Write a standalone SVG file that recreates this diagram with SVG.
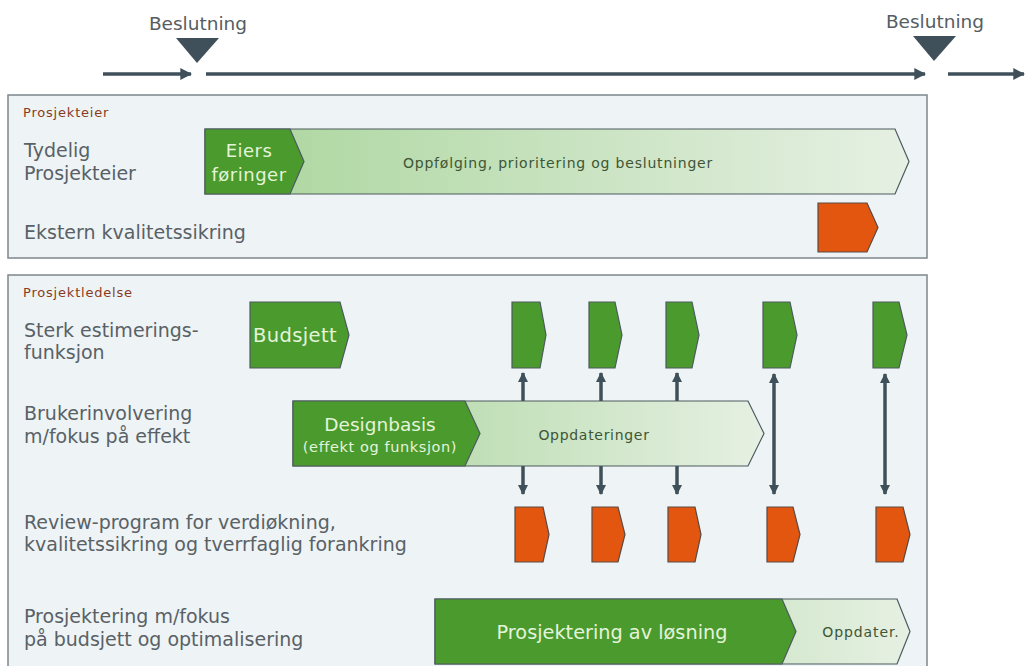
<svg xmlns="http://www.w3.org/2000/svg" width="1025" height="666" viewBox="0 0 1025 666">
<defs>
<style>
.lbl{font-family:"DejaVu Sans",Verdana,sans-serif;font-size:19px;fill:#596166}
.hdr{font-family:"DejaVu Sans",Verdana,sans-serif;font-size:13px;letter-spacing:0.8px;fill:#8a3b1e}
.top{font-family:"DejaVu Sans",Verdana,sans-serif;font-size:18.5px;fill:#555d62;text-anchor:middle}
.wt{font-family:"DejaVu Sans",Verdana,sans-serif;fill:#e4f4da;text-anchor:middle}
.dk{font-family:"DejaVu Sans",Verdana,sans-serif;fill:#3e5536;text-anchor:middle}
.panel{fill:#eef3f5;stroke:#7e878c;stroke-width:1.5}
.g{fill:#4a9a2e;stroke:#4c5a5e;stroke-width:1.2}
.o{fill:#e2560f;stroke:#5a4a44;stroke-width:1.2}
.lt{fill:url(#lg);stroke:#4c5a5e;stroke-width:1.2}
.ln{stroke:#3f505a;stroke-width:3.5;fill:none}
.tri{fill:#3f505a}
</style>
<linearGradient id="lg" x1="0" y1="0" x2="1" y2="0">
<stop offset="0" stop-color="#a9d59b"/>
<stop offset="1" stop-color="#e6f0e3"/>
</linearGradient>
<marker id="ah" viewBox="0 0 10 10" refX="9" refY="5" markerWidth="3.4" markerHeight="3.4" orient="auto-start-reverse" markerUnits="strokeWidth">
<path d="M0,0 L10,5 L0,10 z" fill="#3f505a"/>
</marker>
<marker id="ah2" viewBox="0 0 10 10" refX="9" refY="5" markerWidth="3" markerHeight="3" orient="auto-start-reverse" markerUnits="strokeWidth">
<path d="M0,0 L10,5 L0,10 z" fill="#3f505a"/>
</marker>
</defs>

<g id="timeline">
<text class="top" x="198" y="30">Beslutning</text>
<polygon class="tri" points="176,38 219,38 197,63"/>
<text class="top" x="935" y="28">Beslutning</text>
<polygon class="tri" points="913,36 956,36 934,61"/>
</g>

<g id="panel-prosjekteier">
<rect class="panel" x="8" y="95" width="919" height="163"/>
<text class="hdr" x="23" y="117">Prosjekteier</text>
<text class="lbl" x="24" y="157">Tydelig</text>
<text class="lbl" x="24" y="180">Prosjekteier</text>
<text class="lbl" x="24" y="239">Ekstern kvalitetssikring</text>
</g>

<g id="bar-oppfolging">
<polygon class="lt" points="205,129 895,129 909,161.5 895,194 205,194"/>
<polygon class="g" points="205,129 290,129 304,161.5 290,194 205,194"/>
<text class="wt" x="249" y="157" font-size="18" letter-spacing="0.5">Eiers</text>
<text class="wt" x="249" y="181" font-size="18" letter-spacing="0.5">føringer</text>
<text class="dk" x="558" y="168" font-size="14" letter-spacing="0.8">Oppfølging, prioritering og beslutninger</text>
</g>

<g id="ekstern-ks">
<polygon class="o" points="818,203 867,203 878,227.5 867,252 818,252"/>
</g>

<g id="panel-prosjektledelse">
<rect class="panel" x="8" y="275" width="919" height="400"/>
<text class="hdr" x="23" y="297">Prosjektledelse</text>
<text class="lbl" x="24" y="337">Sterk estimerings-</text>
<text class="lbl" x="24" y="359">funksjon</text>
<text class="lbl" x="24" y="420">Brukerinvolvering</text>
<text class="lbl" x="24" y="443">m/fokus på effekt</text>
<text class="lbl" x="24" y="529">Review-program for verdiøkning,</text>
<text class="lbl" x="24" y="551">kvalitetssikring og tverrfaglig forankring</text>
<text class="lbl" x="24" y="623">Prosjektering m/fokus</text>
<text class="lbl" x="24" y="646">på budsjett og optimalisering</text>
</g>

<g id="budsjett">
<polygon class="g" points="250,302 340,302 349,335 340,368 250,368"/>
<text class="wt" x="295" y="342" font-size="19.5" letter-spacing="0.4">Budsjett</text>
</g>

<g id="estimat-1"><polygon class="g" points="512,302 540,302 546,335 540,368 512,368"/></g>
<g id="estimat-2"><polygon class="g" points="589,302 615,302 622,335 615,368 589,368"/></g>
<g id="estimat-3"><polygon class="g" points="666,302 692,302 699,335 692,368 666,368"/></g>
<g id="estimat-4"><polygon class="g" points="763,302 790,302 797,335 790,368 763,368"/></g>
<g id="estimat-5"><polygon class="g" points="873,302 899,302 907,335 899,368 873,368"/></g>

<g id="connectors">
<line class="ln" x1="103" y1="74" x2="191" y2="74" marker-end="url(#ah)"/>
<line class="ln" x1="206" y1="74" x2="925" y2="74" marker-end="url(#ah)"/>
<line class="ln" x1="948" y1="74" x2="1024" y2="74" marker-end="url(#ah)"/>
<line class="ln" x1="523" y1="401" x2="523" y2="373" marker-end="url(#ah2)" stroke-width="3"/>
<line class="ln" x1="601" y1="401" x2="601" y2="373" marker-end="url(#ah2)" stroke-width="3"/>
<line class="ln" x1="677" y1="401" x2="677" y2="373" marker-end="url(#ah2)" stroke-width="3"/>
<line class="ln" x1="523" y1="466" x2="523" y2="494" marker-end="url(#ah2)" stroke-width="3"/>
<line class="ln" x1="601" y1="466" x2="601" y2="494" marker-end="url(#ah2)" stroke-width="3"/>
<line class="ln" x1="677" y1="466" x2="677" y2="494" marker-end="url(#ah2)" stroke-width="3"/>
<line class="ln" x1="774" y1="374" x2="774" y2="494" marker-start="url(#ah2)" marker-end="url(#ah2)" stroke-width="3"/>
<line class="ln" x1="885" y1="374" x2="885" y2="494" marker-start="url(#ah2)" marker-end="url(#ah2)" stroke-width="3"/>
</g>

<g id="designbasis">
<polygon class="lt" points="293,401 748,401 764,433.5 748,466 293,466"/>
<polygon class="g" points="293,401 465,401 480,433.5 465,466 293,466"/>
<text class="wt" x="380" y="431" font-size="18.5">Designbasis</text>
<text class="wt" x="380" y="452" font-size="14.5" letter-spacing="0.6">(effekt og funksjon)</text>
<text class="dk" x="594" y="440" font-size="14" letter-spacing="0.7">Oppdateringer</text>
</g>

<g id="review-1"><polygon class="o" points="515,507 543,507 549,534.5 543,562 515,562"/></g>
<g id="review-2"><polygon class="o" points="592,507 618,507 625,534.5 618,562 592,562"/></g>
<g id="review-3"><polygon class="o" points="668,507 695,507 701,534.5 695,562 668,562"/></g>
<g id="review-4"><polygon class="o" points="767,507 793,507 800,534.5 793,562 767,562"/></g>
<g id="review-5"><polygon class="o" points="876,507 903,507 910,534.5 903,562 876,562"/></g>

<g id="prosjektering">
<polygon class="lt" points="435,599 897,599 910,631.5 897,664 435,664"/>
<polygon class="g" points="435,599 782,599 796,631.5 782,664 435,664"/>
<text class="wt" x="612" y="639" font-size="19.3">Prosjektering av løsning</text>
<text class="dk" x="861" y="637" font-size="14" letter-spacing="0.9">Oppdater.</text>
</g>
</svg>
